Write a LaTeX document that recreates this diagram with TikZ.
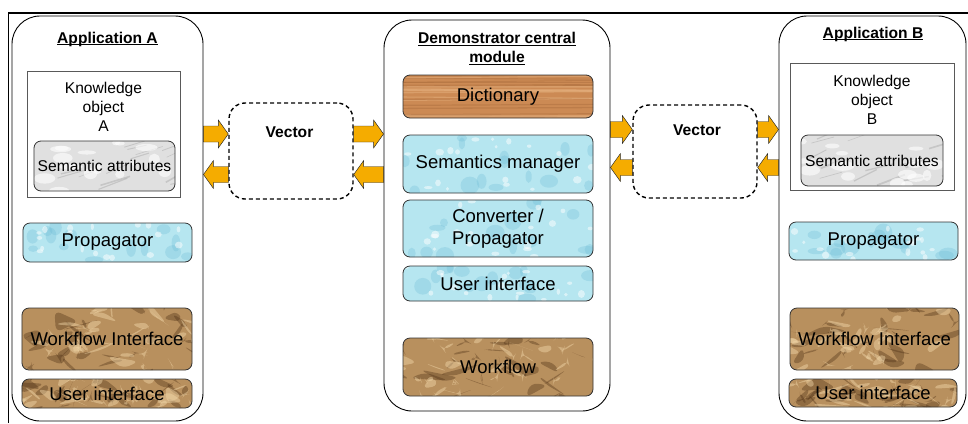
\documentclass[tikz,border=0pt]{standalone}
\usepackage{fontspec}
\setmainfont{Liberation Sans}
\usetikzlibrary{calc}
\definecolor{arrowor}{RGB}{245,172,0}
\definecolor{waterbase}{RGB}{182,230,240}
\definecolor{waterdark}{RGB}{105,185,212}
\definecolor{paperbase}{RGB}{184,144,94}
\definecolor{paperdark}{RGB}{80,50,22}
\definecolor{paperlight}{RGB}{242,216,170}
\definecolor{woodbase}{RGB}{204,138,84}
\definecolor{wooddark}{RGB}{150,90,45}
\definecolor{woodlight}{RGB}{230,178,128}
\definecolor{marblebase}{RGB}{224,224,224}
\definecolor{marbledark}{RGB}{140,140,140}

\newcommand\smallf{\fontsize{15.6bp}{19bp}\selectfont}
\newcommand\bigf{\fontsize{18.5bp}{22bp}\selectfont}
\newcommand\myul[1]{\setbox0\hbox{#1}\rlap{\rule[-2.4bp]{\wd0}{1.1bp}}\box0}

\newcommand\waterfill{%
 \foreach \k in {1,...,14}{%
  \fill[waterdark,opacity=.28] let \p1=(path picture bounding box.south west),\p2=(path picture bounding box.north east) in
   ({\x1+rnd*(\x2-\x1)},{\y1+rnd*(\y2-\y1)}) ellipse [x radius={3bp+7bp*rnd}, y radius={3bp+6bp*rnd}];}
 \foreach \k in {1,...,18}{%
  \fill[white,opacity=.5] let \p1=(path picture bounding box.south west),\p2=(path picture bounding box.north east) in
   ({\x1+rnd*(\x2-\x1)},{\y1+rnd*(\y2-\y1)}) ellipse [x radius={1.5bp+3bp*rnd}, y radius={1.5bp+2.5bp*rnd}];}
}
\newcommand\paperfill{%
 \foreach \k in {1,...,30}{%
  \fill[paperdark,opacity=.38] let \p1=(path picture bounding box.south west),\p2=(path picture bounding box.north east) in
   ({\x1+rnd*(\x2-\x1)},{\y1+rnd*(\y2-\y1)}) -- ++({(rnd-.5)*50bp},{(rnd-.5)*30bp}) -- ++({(rnd-.5)*50bp},{(rnd-.5)*30bp}) -- cycle;}
 \foreach \k in {1,...,35}{%
  \fill[paperlight,opacity=.45] let \p1=(path picture bounding box.south west),\p2=(path picture bounding box.north east) in
   ({\x1+rnd*(\x2-\x1)},{\y1+rnd*(\y2-\y1)}) -- ++({(rnd-.5)*44bp},{(rnd-.5)*26bp}) -- ++({(rnd-.5)*44bp},{(rnd-.5)*26bp}) -- cycle;}
}
\newcommand\woodfill{%
 \foreach \k in {1,...,12}{%
  \pgfmathsetmacro\ry{rnd}%
  \draw[wooddark,opacity=.28,line width={0.4bp+1bp*rnd}] let \p1=(path picture bounding box.south west),\p2=(path picture bounding box.north east) in
   ({\x1},{\y1+\ry*(\y2-\y1)}) -- ({\x2},{\y1+\ry*(\y2-\y1)+(rnd-.5)*4bp});}
 \foreach \k in {1,...,10}{%
  \pgfmathsetmacro\ry{rnd}%
  \draw[woodlight,opacity=.5,line width={0.6bp+1.2bp*rnd}] let \p1=(path picture bounding box.south west),\p2=(path picture bounding box.north east) in
   ({\x1},{\y1+\ry*(\y2-\y1)}) -- ({\x2},{\y1+\ry*(\y2-\y1)+(rnd-.5)*4bp});}
}
\newcommand\marblefill{%
 \foreach \k in {1,...,14}{%
  \draw[marbledark,opacity=.3,line width={0.5bp+1.5bp*rnd}] let \p1=(path picture bounding box.south west),\p2=(path picture bounding box.north east) in
   ({\x1+rnd*(\x2-\x1)},{\y1+rnd*(\y2-\y1)}) -- ++({18bp+12bp*rnd},{4bp+8bp*rnd});}
 \foreach \k in {1,...,16}{%
  \fill[white,opacity=.6] let \p1=(path picture bounding box.south west),\p2=(path picture bounding box.north east) in
   ({\x1+rnd*(\x2-\x1)},{\y1+rnd*(\y2-\y1)}) ellipse [x radius={4bp+8bp*rnd}, y radius={2bp+4bp*rnd}];}
}

\newcommand\rarr[3]{%
 \filldraw[blockarr] let \p1=(#1), \p2=(#2), \p3=(#3) in
  ({\x1},{\y3+8bp}) -- ({\x2-10bp},{\y3+8bp}) -- ({\x2-10bp},{\y3+14bp}) -- ({\x2},{\y3})
  -- ({\x2-10bp},{\y3-14bp}) -- ({\x2-10bp},{\y3-8bp}) -- ({\x1},{\y3-8bp}) -- cycle;}
\newcommand\larr[3]{%
 \filldraw[blockarr] let \p1=(#1), \p2=(#2), \p3=(#3) in
  ({\x1},{\y3+8bp}) -- ({\x2+10bp},{\y3+8bp}) -- ({\x2+10bp},{\y3+14bp}) -- ({\x2},{\y3})
  -- ({\x2+10bp},{\y3-14bp}) -- ({\x2+10bp},{\y3-8bp}) -- ({\x1},{\y3-8bp}) -- cycle;}

\begin{document}
\begin{tikzpicture}[x=1bp,y=-1bp,
  container/.style={draw=black, line width=0.9bp, rounded corners=28bp, inner sep=0pt, fill=white},
  kobox/.style={draw=black!65, line width=0.7bp, inner sep=0pt, fill=white},
  vecbox/.style={draw=black, line width=1.4bp, dash pattern=on 4bp off 3bp, rounded corners=16bp, inner sep=0pt},
  tbox/.style={draw=black!80, line width=0.8bp, rounded corners=7bp, inner sep=0pt, align=center, font=\bigf},
  water/.style={tbox, fill=waterbase, path picture={\waterfill}},
  paper/.style={tbox, fill=paperbase, path picture={\paperfill}},
  wood/.style={tbox, fill=woodbase, path picture={\woodfill}},
  marble/.style={tbox, fill=marblebase, font=\smallf, path picture={\marblefill}},
  ttl/.style={inner sep=0pt, font=\smallf\bfseries, align=center},
  txt/.style={inner sep=0pt, font=\smallf, align=center},
  blockarr/.style={fill=arrowor, draw=black!85, line width=0.45bp},
]
\useasboundingbox (0,0) rectangle (968,423);
\pgfmathsetseed{7}
% frame
\draw[line width=1.6bp] (8.5,423) -- (8.5,13) -- (968,13);

% containers
\node[container, minimum width=191bp, minimum height=405bp] (appA) at (107.5,218.5) {};
\node[container, minimum width=226bp, minimum height=391bp] (cen) at (497,215.5) {};
\node[container, minimum width=187bp, minimum height=405bp] (appB) at (872.5,218.5) {};

% titles
\node[ttl, anchor=base] (tA) at (107.5,43) {\myul{Application A}};
\node[ttl, anchor=base] (tB) at (873,38) {\myul{Application B}};
\node[ttl, anchor=north] (tC) at (497,32) {\myul{Demonstrator central}\\\myul{module}};

% application A
\node[kobox, minimum width=153bp, minimum height=126bp] (koA) at (103.5,134) {};
\node[txt, anchor=north] (koAt) at (103.5,82) {Knowledge\\object\\A};
\node[marble, minimum width=141bp, minimum height=50bp] (saA) at (104.5,166) {Semantic attributes};
\node[water, minimum width=169bp, minimum height=39bp] (prA) at (107.5,242.5) {Propagator};
\node[paper, minimum width=170bp, minimum height=62bp] (wiA) at (107,339) {Workflow Interface};
\node[paper, minimum width=170bp, minimum height=29bp] (uiA) at (107,393.5) {User interface};

% central module
\node[wood, minimum width=190bp, minimum height=43bp] (dic) at (498,96.5) {Dictionary};
\node[water, minimum width=190bp, minimum height=58bp] (sem) at (498,164) {Semantics manager};
\node[water, minimum width=190bp, minimum height=57bp] (conv) at (498,228.5) {Converter /\\Propagator};
\node[water, minimum width=190bp, minimum height=35bp] (uiC) at (498,283.5) {User interface};
\node[paper, minimum width=190bp, minimum height=58bp] (wf) at (498,367) {Workflow};

% application B
\node[kobox, minimum width=164bp, minimum height=127bp] (koB) at (872,126.5) {};
\node[txt, anchor=north] (koBt) at (872,75) {Knowledge\\object\\B};
\node[marble, minimum width=142bp, minimum height=51bp] (saB) at (872,160.5) {Semantic attributes};
\node[water, minimum width=169bp, minimum height=38bp] (prB) at (873.5,241) {Propagator};
\node[paper, minimum width=169bp, minimum height=62bp] (wiB) at (874.5,339) {Workflow Interface};
\node[paper, minimum width=168bp, minimum height=28bp] (uiB) at (873,393) {User interface};

% vectors
\node[vecbox, minimum width=124bp, minimum height=96bp] (vL) at (291,151) {};
\node[ttl, anchor=base] (vLt) at (289.5,137) {Vector};
\node[vecbox, minimum width=124bp, minimum height=93bp] (vR) at (695,151.5) {};
\node[ttl, anchor=base] (vRt) at (697,135) {Vector};

% arrow levels
\coordinate (yA1) at (0,134);
\coordinate (yA2) at (0,174.5);
\coordinate (yB1) at (0,129.5);
\coordinate (yB2) at (0,167.5);

\rarr{appA.east}{vL.west}{yA1}
\larr{vL.west}{appA.east}{yA2}
\rarr{vL.east}{cen.west}{yA1}
\larr{cen.west}{vL.east}{yA2}
\rarr{cen.east}{vR.west}{yB1}
\larr{vR.west}{cen.east}{yB2}
\rarr{vR.east}{appB.west}{yB1}
\larr{appB.west}{vR.east}{yB2}
\end{tikzpicture}
\end{document}
